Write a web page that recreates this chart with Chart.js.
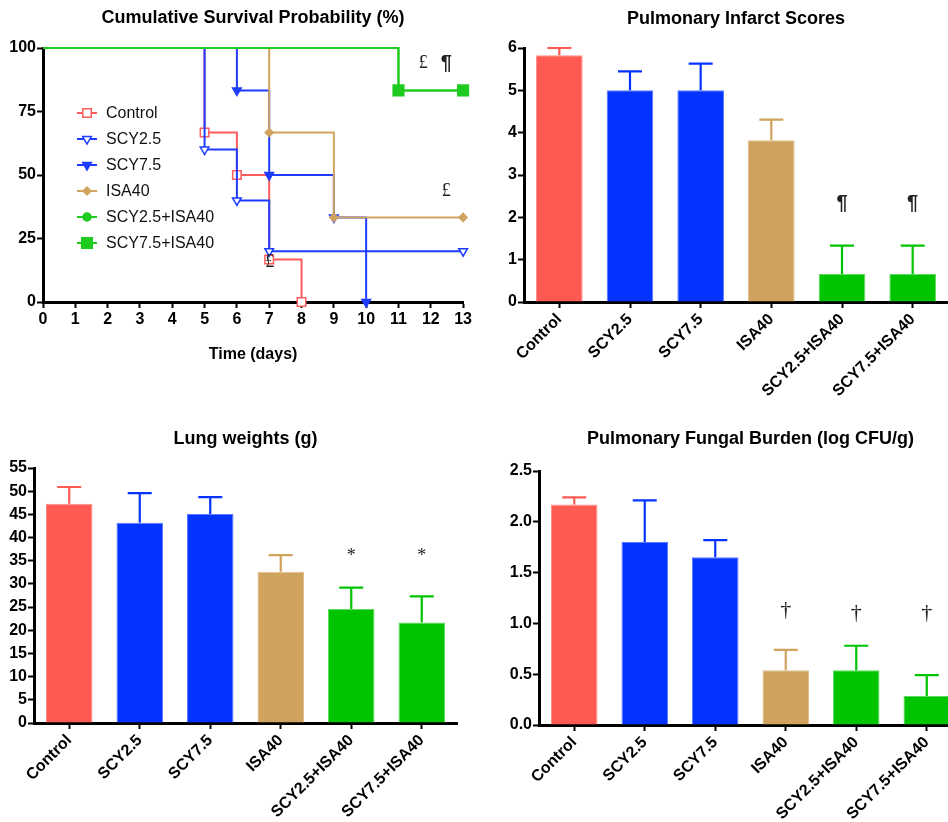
<!DOCTYPE html>
<html><head><meta charset="utf-8">
<script src="https://cdn.jsdelivr.net/npm/chart.js@4.4.0/dist/chart.umd.min.js"></script>
<style>
html,body{margin:0;padding:0;background:#fff;overflow:hidden;width:948px;height:822px;position:relative;}
canvas{position:absolute;}
</style></head><body>
<canvas id="c1" width="474" height="380" style="left:0;top:0"></canvas>
<canvas id="c2" width="474" height="410" style="left:474px;top:0"></canvas>
<canvas id="c3" width="474" height="412" style="left:0;top:410px"></canvas>
<canvas id="c4" width="482" height="412" style="left:480px;top:410px"></canvas>
<script>
// ---------- DATA ----------
// Survival (Kaplan-Meier) curves: event days and survival %
const controlDays = [0, 5, 6, 7, 8];
const controlSurv = [100, 66.7, 50, 16.7, 0];
const scy25Days = [0, 5, 6, 7, 13];
const scy25Surv = [100, 60, 40, 20, 20];
const scy75Days = [0, 6, 7, 9, 10];
const scy75Surv = [100, 83.3, 50, 33.3, 0];
const isa40Days = [0, 7, 9, 13];
const isa40Surv = [100, 66.7, 33.3, 33.3];
const combo25Days = [0, 11, 13];
const combo25Surv = [100, 83.3, 83.3];
const combo75Days = [0, 11, 13];
const combo75Surv = [100, 83.3, 83.3];
const dayTicks = [0,1,2,3,4,5,6,7,8,9,10,11,12,13];
const survTicks = [0, 25, 50, 75, 100];

// Bar panels
const groups = ['Control', 'SCY2.5', 'SCY7.5', 'ISA40', 'SCY2.5+ISA40', 'SCY7.5+ISA40'];
const infarctMean = [5.83, 5.0, 5.0, 3.82, 0.66, 0.66];
const infarctSem  = [0.17, 0.45, 0.63, 0.49, 0.67, 0.67];
const lungMean = [47.3, 43.2, 45.1, 32.6, 24.6, 21.7];
const lungSem  = [3.6, 6.4, 3.6, 3.6, 4.6, 5.6];
const fungalMean = [2.17, 1.80, 1.65, 0.54, 0.54, 0.285];
const fungalSem  = [0.07, 0.41, 0.17, 0.20, 0.24, 0.205];

// significance marks
const infarctMarks = [{i:4, v:2.32, t:'¶'}, {i:5, v:2.32, t:'¶'}];
const lungMarks = [{i:4, v:35.9, t:'*'}, {i:5, v:35.9, t:'*'}];
const fungalMarks = [{i:3, v:1.13, t:'†'}, {i:4, v:1.10, t:'†'}, {i:5, v:1.10, t:'†'}];
const survMarks = [{x:11.77, y:94, t:'£'}, {x:12.48, y:94, t:'¶'}, {x:12.48, y:43.7, t:'£'}, {x:7.02, y:15.7, t:'£'}];

// ---------- STYLE ----------
const SANS = "'Liberation Sans', Arial, Helvetica, sans-serif";
const SERIF = "'Liberation Serif', 'Times New Roman', serif";
Chart.defaults.font.family = SANS;
Chart.defaults.color = '#000';
Chart.defaults.animation = false;

const barColors = ['#FF5A52', '#0433FF', '#0433FF', '#CFA25E', '#00C400', '#00C400'];
const barEdge   = ['#FF8F88', '#5C78FF', '#5C78FF', '#E0BF8C', '#5FDC5F', '#5FDC5F'];
const C_RED = '#FF5C5C', C_BLUE = '#1E3CFF', C_TAN = '#D0A35F', C_GREEN = '#1ECB1E';
const FONT_PILCROW = 'bold 20px ' + SANS;
const FONT_POUND = '18px ' + SERIF;
const FONT_DAGGER = '22px ' + SERIF;
const FONT_STAR = '18px ' + SERIF;

// ---------- PLUGINS ----------
const panelText = {
  id: 'panelText',
  afterDraw(chart, args, o) {
    const ctx = chart.ctx, a = chart.chartArea;
    ctx.save();
    ctx.fillStyle = '#000';
    ctx.textAlign = 'center';
    ctx.textBaseline = 'middle';
    if (o.title) {
      ctx.font = 'bold 18px ' + SANS;
      ctx.fillText(o.title, (a.left + a.right) / 2, o.titleY);
    }
    if (o.xTitle) {
      ctx.font = 'bold 16px ' + SANS;
      ctx.fillText(o.xTitle, (a.left + a.right) / 2, o.xTitleY);
    }
    if (o.marks) {
      const xs = chart.scales.x, ys = chart.scales.y;
      ctx.fillStyle = '#222';
      for (const m of o.marks) {
        ctx.font = m.font;
        const px = m.i !== undefined ? xs.getPixelForValue(m.i) : xs.getPixelForValue(m.x);
        const py = ys.getPixelForValue(m.v !== undefined ? m.v : m.y);
        ctx.fillText(m.t, px, py);
      }
    }
    ctx.restore();
  }
};

const errorBars = {
  id: 'errorBars',
  afterDatasetsDraw(chart, args, o) {
    if (!o.sems) return;
    const ctx = chart.ctx, ys = chart.scales.y;
    const meta = chart.getDatasetMeta(0);
    const means = chart.data.datasets[0].data;
    ctx.save();
    ctx.lineWidth = 2.2;
    meta.data.forEach((bar, i) => {
      const yTop = ys.getPixelForValue(means[i] + o.sems[i]);
      const yBase = ys.getPixelForValue(means[i]);
      ctx.strokeStyle = o.colors[i];
      ctx.beginPath();
      ctx.moveTo(bar.x, yBase);
      ctx.lineTo(bar.x, yTop);
      ctx.moveTo(bar.x - 12, yTop);
      ctx.lineTo(bar.x + 12, yTop);
      ctx.stroke();
    });
    ctx.restore();
  }
};

const kmLegend = {
  id: 'kmLegend',
  afterDraw(chart, args, o) {
    if (!o.display) return;
    const ctx = chart.ctx;
    ctx.save();
    chart.data.datasets.forEach((ds, i) => {
      const y = o.y0 + o.dy * i;
      ctx.strokeStyle = ds.borderColor;
      ctx.lineWidth = 2;
      ctx.beginPath();
      ctx.moveTo(o.x0, y);
      ctx.lineTo(o.x0 + 20, y);
      ctx.stroke();
      ctx.fillStyle = ds.pointBackgroundColor;
      ctx.strokeStyle = ds.pointBorderColor;
      ctx.lineWidth = ds.pointBorderWidth;
      Chart.helpers.drawPoint(ctx, {
        pointStyle: ds.pointStyle, rotation: ds.pointRotation || 0,
        radius: ds.legendRadius, borderWidth: ds.pointBorderWidth
      }, o.x0 + 10, y);
      ctx.fillStyle = '#111';
      ctx.font = '16px ' + SANS;
      ctx.textAlign = 'left';
      ctx.textBaseline = 'middle';
      ctx.fillText(ds.label, o.x0 + 29, y + 1);
    });
    ctx.restore();
  }
};

Chart.register(panelText, errorBars, kmLegend);

function axisCommon() {
  return {
    border: { display: true, color: '#000', width: 3 },
    grid: { display: true, drawOnChartArea: false, drawTicks: true, tickLength: 6, tickWidth: 2, tickColor: '#000', offset: false }
  };
}

// ---------- PANEL 1: survival ----------
function km(label, days, surv, color, style, r, filled, rot, lr, order) {
  return {
    label,
    data: days.map((d, i) => ({ x: d, y: surv[i] })),
    borderColor: color, borderWidth: 2, stepped: true, fill: false,
    pointStyle: style,
    pointRadius: days.map((d, i) => i === 0 ? 0 : r),
    pointHoverRadius: 0,
    pointBackgroundColor: filled ? color : '#fff',
    pointBorderColor: color, pointBorderWidth: 1.5,
    pointRotation: rot, legendRadius: lr,
    clip: false, order
  };
}

new Chart(document.getElementById('c1'), {
  type: 'line',
  data: {
    datasets: [
      km('Control', controlDays, controlSurv, C_RED, 'rect', 6, false, 0, 6, 6),
      km('SCY2.5', scy25Days, scy25Surv, C_BLUE, 'triangle', 5, false, 180, 5, 4),
      km('SCY7.5', scy75Days, scy75Surv, C_BLUE, 'triangle', 5, true, 180, 5, 5),
      km('ISA40', isa40Days, isa40Surv, C_TAN, 'rectRot', 4, true, 0, 4, 3),
      km('SCY2.5+ISA40', combo25Days, combo25Surv, C_GREEN, 'circle', 4, true, 0, 4, 2),
      km('SCY7.5+ISA40', combo75Days, combo75Surv, C_GREEN, 'rect', 7.5, true, 0, 7.5, 1)
    ]
  },
  options: {
    responsive: false,
    layout: { padding: { top: 48, right: 7, left: 0, bottom: 0 } },
    plugins: {
      legend: { display: false }, tooltip: { enabled: false },
      panelText: {
        title: 'Cumulative Survival Probability (%)', titleY: 18, xTitle: 'Time (days)', xTitleY: 355,
        marks: survMarks.map(m => ({ x: m.x, y: m.y, t: m.t, font: m.t === '¶' ? FONT_PILCROW : FONT_POUND }))
      },
      kmLegend: { display: true, x0: 77, y0: 113, dy: 26 }
    },
    scales: {
      x: Object.assign(axisCommon(), {
        type: 'linear', min: 0, max: 13,
        afterBuildTicks: s => { s.ticks = dayTicks.map(v => ({ value: v })); },
        ticks: { font: { size: 16, weight: 'bold' }, color: '#000', padding: 2, maxRotation: 0 },
        afterFit: s => { s.height = 380 - 302; }
      }),
      y: Object.assign(axisCommon(), {
        type: 'linear', min: 0, max: 100,
        afterBuildTicks: s => { s.ticks = survTicks.map(v => ({ value: v })); },
        ticks: { font: { size: 16, weight: 'bold' }, color: '#000', padding: 1 },
        afterFit: s => { s.width = 43; }
      })
    }
  }
});

// ---------- BAR PANELS ----------
function barPanel(id, W, H, g, means, sems, yMin, yMax, yStep, decimals, title, titleY, marks, markFont) {
  new Chart(document.getElementById(id), {
    type: 'bar',
    data: {
      labels: groups,
      datasets: [{
        data: means, backgroundColor: barColors, borderColor: barEdge, borderWidth: 1,
        categoryPercentage: 1, barPercentage: 0.66
      }]
    },
    options: {
      responsive: false,
      layout: { padding: { top: g.top, right: W - g.right, left: 0, bottom: 0 } },
      plugins: {
        legend: { display: false }, tooltip: { enabled: false },
        errorBars: { sems, colors: barColors },
        panelText: { title, titleY, marks: marks.map(m => ({ i: m.i, v: m.v, t: m.t, font: markFont })) }
      },
      scales: {
        x: Object.assign(axisCommon(), {
          type: 'category', offset: true,
          ticks: { font: { size: 16, weight: 'bold' }, color: '#000', autoSkip: false, minRotation: 45, maxRotation: 45, padding: 2 },
          afterFit: s => { s.height = H - g.bottom; }
        }),
        y: Object.assign(axisCommon(), {
          type: 'linear', min: yMin, max: yMax,
          ticks: { stepSize: yStep, font: { size: 16, weight: 'bold' }, color: '#000', padding: 1,
                   callback: v => decimals ? Number(v).toFixed(decimals) : v },
          afterFit: s => { s.width = g.left; }
        })
      }
    }
  });
}

barPanel('c2', 474, 410, { left: 50, top: 48, right: 474, bottom: 302 }, infarctMean, infarctSem, 0, 6, 1, 0, 'Pulmonary Infarct Scores', 19, infarctMarks, FONT_PILCROW);
barPanel('c3', 474, 412, { left: 34, top: 58, right: 457, bottom: 313 }, lungMean, lungSem, 0, 55, 5, 0, 'Lung weights (g)', 29, lungMarks, FONT_STAR);
barPanel('c4', 482, 412, { left: 59, top: 61, right: 482, bottom: 315 }, fungalMean, fungalSem, 0, 2.5, 0.5, 1, 'Pulmonary Fungal Burden (log CFU/g)', 29, fungalMarks, FONT_DAGGER);
</script>
</body></html>
